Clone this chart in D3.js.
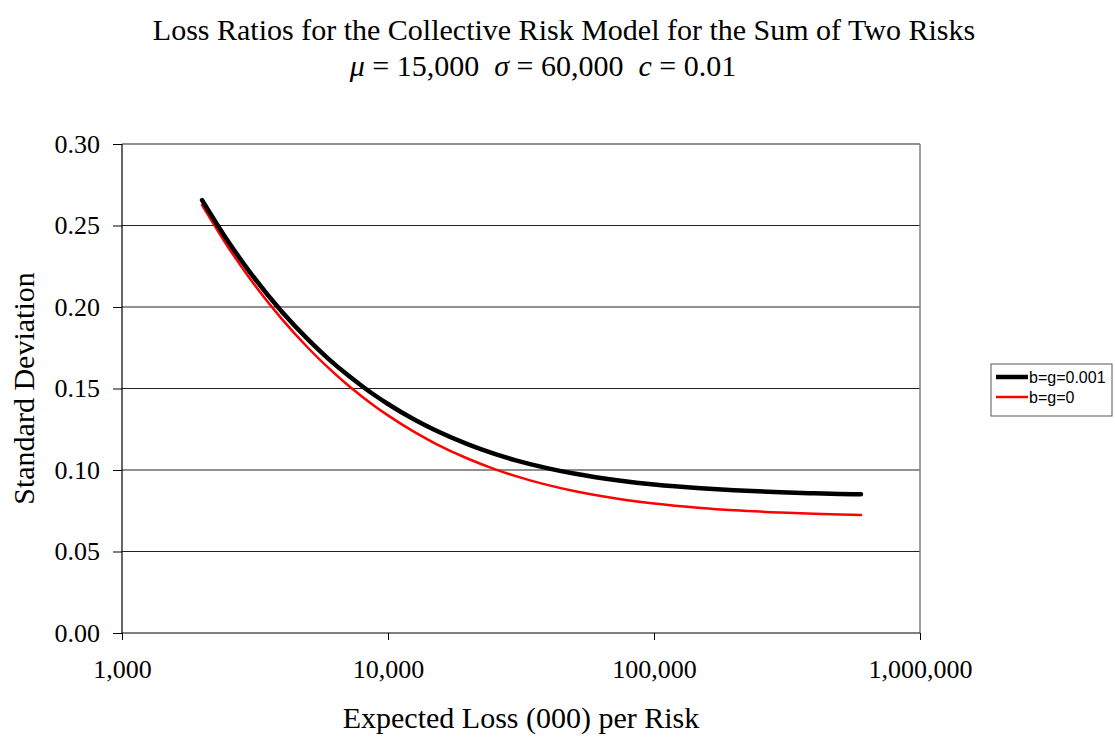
<!DOCTYPE html>
<html>
<head>
<meta charset="utf-8">
<script src="https://cdn.jsdelivr.net/npm/d3@7"></script>
<style>
  body { margin: 0; background: #fff; }
  text { font-family: "Liberation Serif", "Times New Roman", serif; }
</style>
</head>
<body>
<div id="chart"></div>
<script>
// expected loss (000) per risk
const losses = [2000, 2500, 3000, 4000, 5000, 6000, 7000, 8000, 9000, 10000, 12500, 15000,
  20000, 25000, 30000, 40000, 50000, 75000, 100000, 150000, 200000, 300000, 400000, 500000, 600000];
// standard deviation, b=g=0.001
const sdBG001 = [0.2656, 0.2405, 0.2222, 0.1969, 0.1801, 0.1679, 0.1587, 0.1514, 0.1454, 0.1405, 0.1311, 0.1245,
  0.1157, 0.1100, 0.1061, 0.1010, 0.0978, 0.0934, 0.0911, 0.0888, 0.0876, 0.0863, 0.0857, 0.0853, 0.0851];
// standard deviation, b=g=0
const sdBG0 = [0.2626, 0.2370, 0.2183, 0.1924, 0.1750, 0.1623, 0.1526, 0.1450, 0.1387, 0.1335, 0.1235, 0.1164,
  0.1069, 0.1007, 0.0964, 0.0907, 0.0871, 0.0821, 0.0794, 0.0767, 0.0753, 0.0739, 0.0731, 0.0727, 0.0724];
const xTicks = [1000, 10000, 100000, 1000000];
const yTicks = [0, 0.05, 0.10, 0.15, 0.20, 0.25, 0.30];

const width = 1115, height = 738;
const margin = { top: 144, right: 195, bottom: 105, left: 122 };

const svg = d3.select("#chart").append("svg")
    .attr("width", width)
    .attr("height", height);

const x = d3.scaleLog()
    .domain([1000, 1000000])
    .range([margin.left, width - margin.right]);

const y = d3.scaleLinear()
    .domain([0, 0.3])
    .range([height - margin.bottom, margin.top]);

// Gridlines
svg.append("g")
    .selectAll("line")
    .data(yTicks.slice(1))
    .enter()
    .append("line")
    .attr("x1", margin.left)
    .attr("x2", width - margin.right)
    .attr("y1", d => y(d))
    .attr("y2", d => y(d))
    .attr("stroke", "#222")
    .attr("stroke-width", 1.2);

// Plot area border (right edge)
svg.append("line")
    .attr("x1", width - margin.right)
    .attr("x2", width - margin.right)
    .attr("y1", margin.top)
    .attr("y2", height - margin.bottom)
    .attr("stroke", "#808080")
    .attr("stroke-width", 1.5);

// Axes
const xAxis = svg.append("g")
    .attr("transform", `translate(0, ${height - margin.bottom})`)
    .call(d3.axisBottom(x).tickValues(xTicks).tickFormat(d3.format(",")).tickSize(7).tickPadding(20));

const yAxis = svg.append("g")
    .attr("transform", `translate(${margin.left}, 0)`)
    .call(d3.axisLeft(y).tickValues(yTicks).tickFormat(d3.format(".2f")).tickSize(9).tickPadding(13));

[xAxis, yAxis].forEach(g => {
  g.select(".domain").attr("stroke", "#000").attr("stroke-width", 1.2);
  g.selectAll(".tick line").attr("stroke", "#000");
  g.selectAll(".tick text")
      .attr("fill", "#000")
      .style("font-family", '"Liberation Serif", "Times New Roman", serif')
      .style("font-size", "26px");
});
xAxis.select(".domain").attr("d", `M${margin.left},0H${width - margin.right}`);
yAxis.select(".domain").attr("d", `M0,${margin.top}V${height - margin.bottom}`);

// Lines
const line = vals => d3.line()
    .x((d, i) => x(losses[i]))
    .y(d => y(d))
    .curve(d3.curveMonotoneX)(vals);

svg.append("path")
    .attr("d", line(sdBG0))
    .attr("fill", "none")
    .attr("stroke", "#ff0000")
    .attr("stroke-width", 2.5)
    .attr("stroke-linecap", "round");

svg.append("path")
    .attr("d", line(sdBG001))
    .attr("fill", "none")
    .attr("stroke", "#000")
    .attr("stroke-width", 4.5)
    .attr("stroke-linecap", "round");

// Title
svg.append("text")
    .attr("x", 564)
    .attr("y", 40)
    .attr("text-anchor", "middle")
    .style("font-size", "30px")
    .text("Loss Ratios for the Collective Risk Model for the Sum of Two Risks");

const sub = svg.append("text")
    .attr("x", 543)
    .attr("y", 76)
    .attr("text-anchor", "middle")
    .style("font-size", "30px")
    .attr("xml:space", "preserve");
sub.append("tspan").style("font-style", "italic").text("μ");
sub.append("tspan").text(" = 15,000  ");
sub.append("tspan").style("font-style", "italic").text("σ");
sub.append("tspan").text(" = 60,000  ");
sub.append("tspan").style("font-style", "italic").text("c");
sub.append("tspan").text(" = 0.01");

// Axis labels
svg.append("text")
    .attr("x", (margin.left + width - margin.right) / 2)
    .attr("y", 728)
    .attr("text-anchor", "middle")
    .style("font-size", "30px")
    .text("Expected Loss (000) per Risk");

svg.append("text")
    .attr("transform", `translate(34, ${(margin.top + height - margin.bottom) / 2}) rotate(-90)`)
    .attr("text-anchor", "middle")
    .style("font-size", "30px")
    .text("Standard Deviation");

// Legend
const legend = svg.append("g").attr("transform", "translate(991, 364)");
legend.append("rect")
    .attr("width", 121)
    .attr("height", 52)
    .attr("fill", "#fff")
    .attr("stroke", "#555")
    .attr("stroke-width", 1);

const items = [
  { name: "b=g=0.001", color: "#000", w: 4.5 },
  { name: "b=g=0", color: "#ff0000", w: 2.5 }
];
items.forEach((d, i) => {
  const g = legend.append("g").attr("transform", `translate(0, ${13 + i * 20})`);
  g.append("line")
      .attr("x1", 5).attr("x2", 37)
      .attr("stroke", d.color)
      .attr("stroke-width", d.w);
  g.append("text")
      .attr("x", 38)
      .attr("y", 6)
      .style("font-family", '"Liberation Sans", Arial, sans-serif')
      .style("font-size", "16px")
      .text(d.name);
});
</script>
</body>
</html>
